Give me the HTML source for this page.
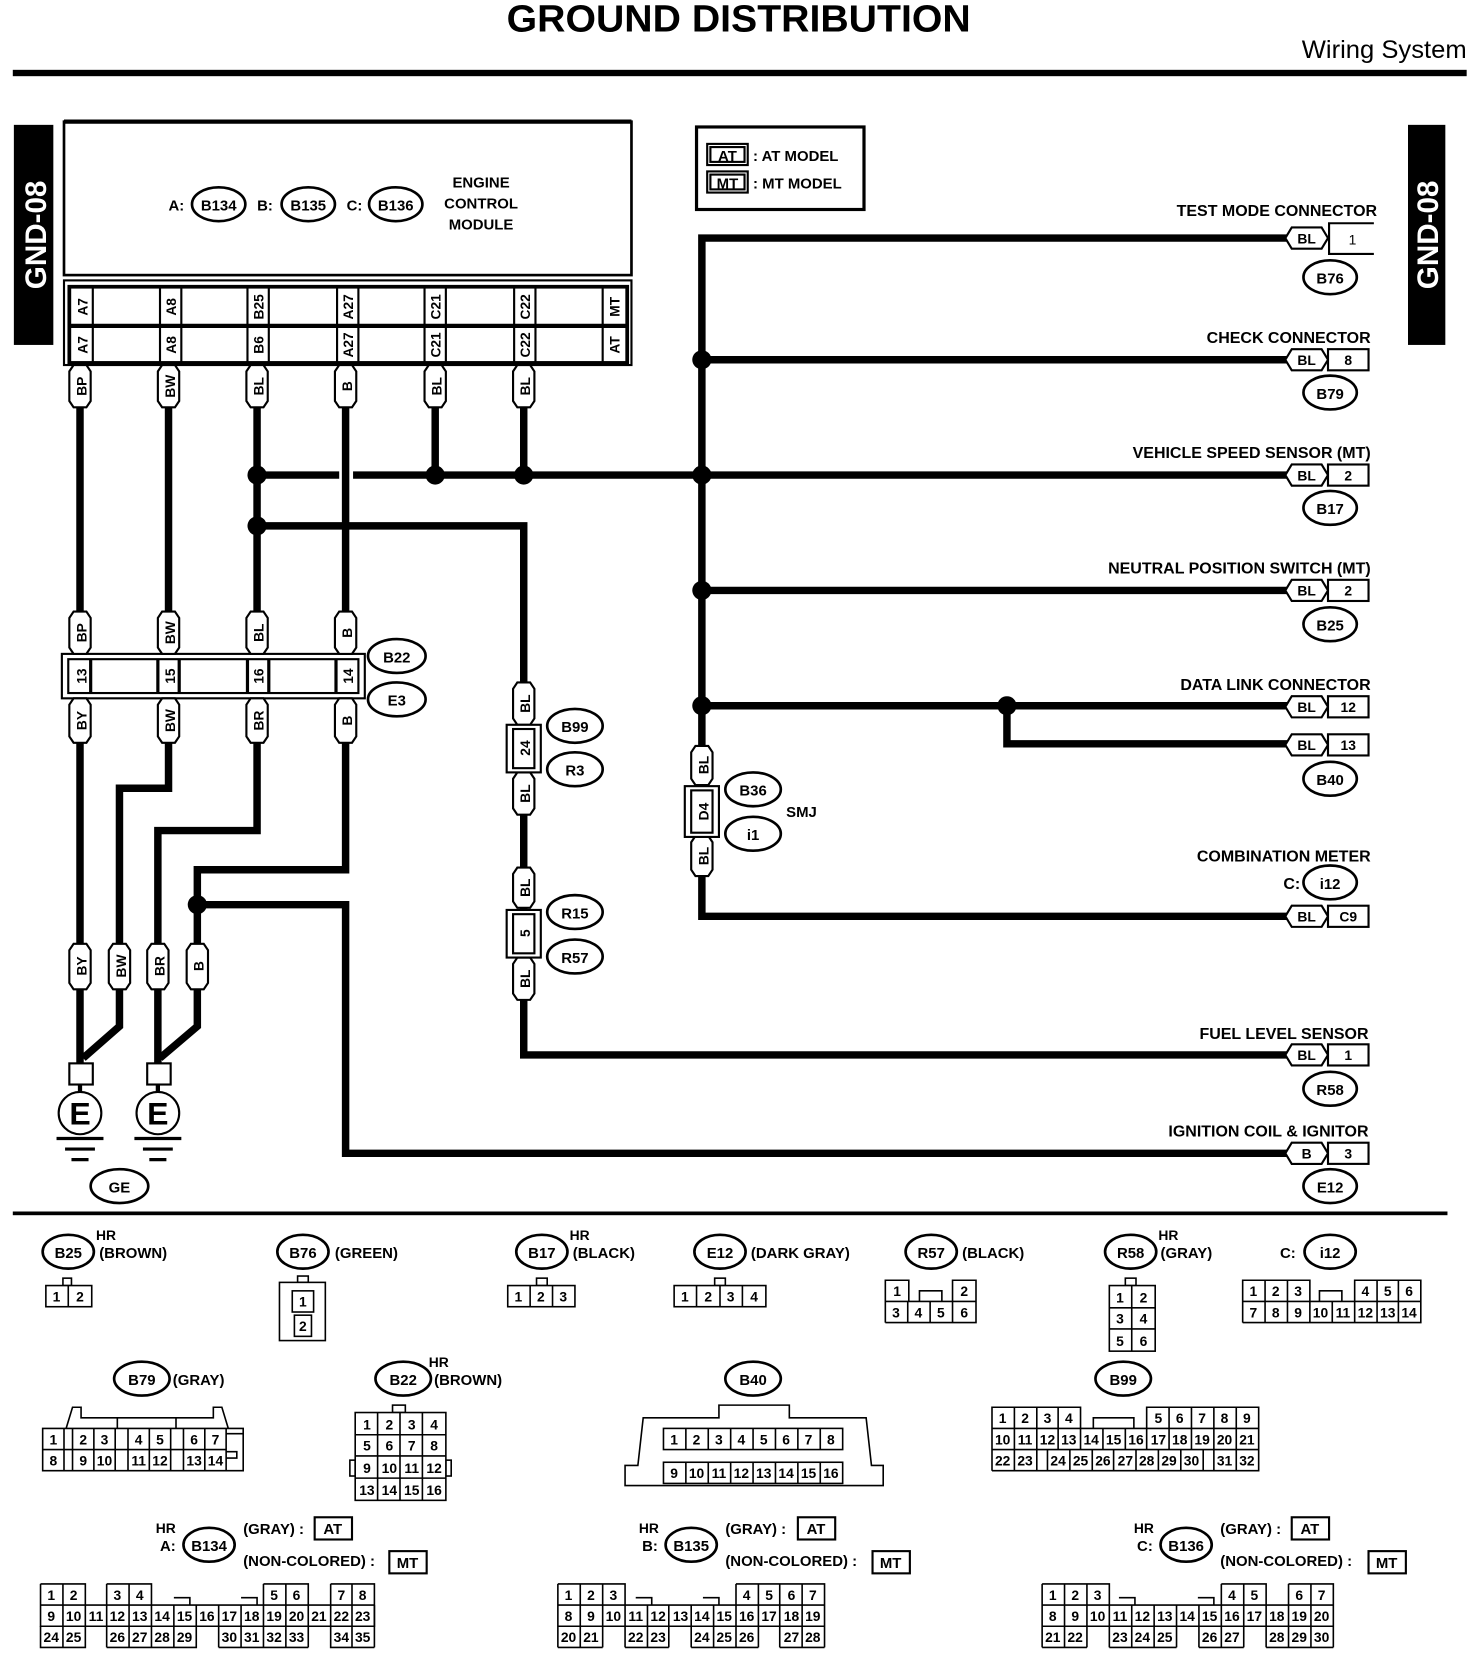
<!DOCTYPE html>
<html><head><meta charset="utf-8"><style>
html,body{margin:0;padding:0;background:#fff}
svg{display:block}
text{font-family:"Liberation Sans",sans-serif;font-weight:bold;fill:#000}
.t{font-size:13px}
.l{font-size:15px}
.o{font-size:14px}
.p{font-size:13px;font-weight:normal}
.w{stroke:#000;stroke-width:7;fill:none}
.tg{fill:#fff;stroke:#000;stroke-width:2}
.ov{fill:#fff;stroke:#000;stroke-width:2.5}
.bx{fill:#fff;stroke:#000;stroke-width:2}
</style></head><body>
<svg width="1472" height="1658" viewBox="0 0 1380 1567" preserveAspectRatio="none" xmlns="http://www.w3.org/2000/svg">
<rect width="1380" height="1567" fill="#fff"/>
<text x="475" y="30" font-size="36" textLength="435" lengthAdjust="spacingAndGlyphs">GROUND DISTRIBUTION</text>
<text x="1375" y="55" font-size="24" text-anchor="end" style="font-weight:normal">Wiring System</text>
<rect x="12" y="66" width="1363" height="6" fill="#000"/>

<rect x="13" y="118" width="37" height="208" fill="#000"/>
<text transform="translate(33,222) rotate(-90)" text-anchor="middle" dy="10" font-size="28" style="fill:#fff">GND-08</text>
<rect x="1320" y="118" width="35" height="208" fill="#000"/>
<text transform="translate(1338,222) rotate(-90)" text-anchor="middle" dy="10" font-size="28" style="fill:#fff">GND-08</text>

<!-- ECM -->
<rect x="60" y="115" width="532" height="145" fill="none" stroke="#000" stroke-width="2.5"/>
<line x1="60" y1="115" x2="592" y2="115" stroke="#000" stroke-width="4"/>
<text x="158" y="199" class="o">A:</text><ellipse cx="205" cy="193" rx="25" ry="16" class="ov"/><text x="205" y="199" class="o" text-anchor="middle">B134</text>
<text x="241" y="199" class="o">B:</text><ellipse cx="289" cy="193" rx="25" ry="16" class="ov"/><text x="289" y="199" class="o" text-anchor="middle">B135</text>
<text x="325" y="199" class="o">C:</text><ellipse cx="371" cy="193" rx="25" ry="16" class="ov"/><text x="371" y="199" class="o" text-anchor="middle">B136</text>
<text x="451" y="177" class="o" text-anchor="middle">ENGINE</text>
<text x="451" y="197" class="o" text-anchor="middle">CONTROL</text>
<text x="451" y="217" class="o" text-anchor="middle">MODULE</text>
<rect x="60" y="265" width="532" height="80" fill="none" stroke="#000" stroke-width="2"/>
<rect x="65" y="271" width="523" height="72" fill="none" stroke="#000" stroke-width="3.5"/>
<line x1="65" y1="308" x2="588" y2="308" stroke="#000" stroke-width="4"/>
<g stroke="#000" stroke-width="2">
<line x1="87" y1="271" x2="87" y2="343"/><line x1="150" y1="271" x2="150" y2="343"/><line x1="170" y1="271" x2="170" y2="343"/>
<line x1="232" y1="271" x2="232" y2="343"/><line x1="252" y1="271" x2="252" y2="343"/><line x1="316" y1="271" x2="316" y2="343"/>
<line x1="336" y1="271" x2="336" y2="343"/><line x1="398" y1="271" x2="398" y2="343"/><line x1="418" y1="271" x2="418" y2="343"/>
<line x1="482" y1="271" x2="482" y2="343"/><line x1="502" y1="271" x2="502" y2="343"/><line x1="565" y1="271" x2="565" y2="343"/>
</g>
<g class="t" text-anchor="middle">
<text transform="translate(77,290) rotate(-90)" dy="5">A7</text><text transform="translate(77,326) rotate(-90)" dy="5">A7</text>
<text transform="translate(160,290) rotate(-90)" dy="5">A8</text><text transform="translate(160,326) rotate(-90)" dy="5">A8</text>
<text transform="translate(242,290) rotate(-90)" dy="5">B25</text><text transform="translate(242,326) rotate(-90)" dy="5">B6</text>
<text transform="translate(326,290) rotate(-90)" dy="5">A27</text><text transform="translate(326,326) rotate(-90)" dy="5">A27</text>
<text transform="translate(408,290) rotate(-90)" dy="5">C21</text><text transform="translate(408,326) rotate(-90)" dy="5">C21</text>
<text transform="translate(492,290) rotate(-90)" dy="5">C22</text><text transform="translate(492,326) rotate(-90)" dy="5">C22</text>
<text transform="translate(576,290) rotate(-90)" dy="5">MT</text><text transform="translate(576,326) rotate(-90)" dy="5">AT</text>
</g>

<!-- wires left -->
<path class="w" d="M75 345V1005 M158 345V745H112V970L78 1000 M241 345V785H148V1005 M324 345V822H185V970L150 1000 M408 345V449 M491 345V449 M185 855H324V1090H1210"/>
<path class="w" d="M241 449H318 M331 449H1210 M241 497H491V645"/>
<path class="w" d="M491 685V997H1210" />
<circle cx="241" cy="449" r="9"/><circle cx="408" cy="449" r="9"/><circle cx="491" cy="449" r="9"/><circle cx="658" cy="449" r="9"/>
<circle cx="241" cy="497" r="9"/><circle cx="185" cy="855" r="9"/>

<!-- right trunk -->
<path class="w" d="M1210 225H658V866H1210 M658 340H1210 M658 558H1210 M658 667H1210 M944 667V703H1210"/>
<circle cx="658" cy="340" r="9"/><circle cx="658" cy="558" r="9"/><circle cx="658" cy="667" r="9"/><circle cx="944" cy="667" r="9"/>

<!-- B22/E3 -->
<rect x="58" y="618" width="284" height="42" class="bx"/>
<rect x="64" y="623" width="272" height="32" class="bx" stroke-width="3"/>
<g stroke="#000" stroke-width="3"><line x1="85" y1="623" x2="85" y2="655"/><line x1="148" y1="623" x2="148" y2="655"/><line x1="168" y1="623" x2="168" y2="655"/><line x1="232" y1="623" x2="232" y2="655"/><line x1="252" y1="623" x2="252" y2="655"/><line x1="315" y1="623" x2="315" y2="655"/></g>
<g class="t" text-anchor="middle">
<text transform="translate(76,639) rotate(-90)" dy="5">13</text><text transform="translate(159,639) rotate(-90)" dy="5">15</text>
<text transform="translate(242,639) rotate(-90)" dy="5">16</text><text transform="translate(326,639) rotate(-90)" dy="5">14</text>
</g>
<ellipse cx="372" cy="620" rx="27" ry="16" class="ov"/><text x="372" y="626" class="o" text-anchor="middle">B22</text>
<ellipse cx="372" cy="661" rx="27" ry="16" class="ov"/><text x="372" y="667" class="o" text-anchor="middle">E3</text>

<!-- tags -->
<g class="tg">
<polygon points="65,351 69,345 81,345 85,351 85,379 81,385 69,385 65,379"/>
<polygon points="148,351 152,345 164,345 168,351 168,379 164,385 152,385 148,379"/>
<polygon points="231,351 235,345 247,345 251,351 251,379 247,385 235,385 231,379"/>
<polygon points="314,351 318,345 330,345 334,351 334,379 330,385 318,385 314,379"/>
<polygon points="398,351 402,345 414,345 418,351 418,379 414,385 402,385 398,379"/>
<polygon points="481,351 485,345 497,345 501,351 501,379 497,385 485,385 481,379"/>
<polygon points="65,584 69,578 81,578 85,584 85,612 81,618 69,618 65,612"/>
<polygon points="148,584 152,578 164,578 168,584 168,612 164,618 152,618 148,612"/>
<polygon points="231,584 235,578 247,578 251,584 251,612 247,618 235,618 231,612"/>
<polygon points="314,584 318,578 330,578 334,584 334,612 330,618 318,618 314,612"/>
<polygon points="65,666 69,660 81,660 85,666 85,696 81,702 69,702 65,696"/>
<polygon points="148,666 152,660 164,660 168,666 168,696 164,702 152,702 148,696"/>
<polygon points="231,666 235,660 247,660 251,666 251,696 247,702 235,702 231,696"/>
<polygon points="314,666 318,660 330,660 334,666 334,696 330,702 318,702 314,696"/>
<polygon points="65,898 69,892 81,892 85,898 85,929 81,935 69,935 65,929"/>
<polygon points="102,898 106,892 118,892 122,898 122,929 118,935 106,935 102,929"/>
<polygon points="138,898 142,892 154,892 158,898 158,929 154,935 142,935 138,929"/>
<polygon points="175,898 179,892 191,892 195,898 195,929 191,935 179,935 175,929"/>
<polygon points="481,651 485,645 497,645 501,651 501,679 497,685 485,685 481,679"/>
<polygon points="481,736 485,730 497,730 501,736 501,764 497,770 485,770 481,764"/>
<polygon points="481,826 485,820 497,820 501,826 501,852 497,858 485,858 481,852"/>
<polygon points="481,911 485,905 497,905 501,911 501,939 497,945 485,945 481,939"/>
<polygon points="648,711 652,705 664,705 668,711 668,736 664,742 652,742 648,736"/>
<polygon points="648,796 652,790 664,790 668,796 668,822 664,828 652,828 648,822"/>
</g>
<g class="t" text-anchor="middle">
<text transform="translate(76,365) rotate(-90)" dy="5">BP</text><text transform="translate(159,365) rotate(-90)" dy="5">BW</text>
<text transform="translate(242,365) rotate(-90)" dy="5">BL</text><text transform="translate(325,365) rotate(-90)" dy="5">B</text>
<text transform="translate(409,365) rotate(-90)" dy="5">BL</text><text transform="translate(492,365) rotate(-90)" dy="5">BL</text>
<text transform="translate(76,598) rotate(-90)" dy="5">BP</text><text transform="translate(159,598) rotate(-90)" dy="5">BW</text>
<text transform="translate(242,598) rotate(-90)" dy="5">BL</text><text transform="translate(325,598) rotate(-90)" dy="5">B</text>
<text transform="translate(76,681) rotate(-90)" dy="5">BY</text><text transform="translate(159,681) rotate(-90)" dy="5">BW</text>
<text transform="translate(242,681) rotate(-90)" dy="5">BR</text><text transform="translate(325,681) rotate(-90)" dy="5">B</text>
<text transform="translate(76,913) rotate(-90)" dy="5">BY</text><text transform="translate(113,913) rotate(-90)" dy="5">BW</text>
<text transform="translate(149,913) rotate(-90)" dy="5">BR</text><text transform="translate(186,913) rotate(-90)" dy="5">B</text>
<text transform="translate(492,665) rotate(-90)" dy="5">BL</text><text transform="translate(492,750) rotate(-90)" dy="5">BL</text>
<text transform="translate(492,839) rotate(-90)" dy="5">BL</text><text transform="translate(492,925) rotate(-90)" dy="5">BL</text>
<text transform="translate(659,723) rotate(-90)" dy="5">BL</text><text transform="translate(659,809) rotate(-90)" dy="5">BL</text>
</g>
<!-- inline connectors -->
<rect x="475" y="685" width="32" height="45" class="bx"/><rect x="481" y="689" width="20" height="37" class="bx"/>
<text transform="translate(492,707) rotate(-90)" dy="5" class="t" text-anchor="middle">24</text>
<rect x="475" y="860" width="32" height="45" class="bx"/><rect x="481" y="864" width="20" height="37" class="bx"/>
<text transform="translate(492,882) rotate(-90)" dy="5" class="t" text-anchor="middle">5</text>
<rect x="642" y="743" width="32" height="48" class="bx"/><rect x="648" y="747" width="20" height="40" class="bx"/>
<text transform="translate(659,767) rotate(-90)" dy="5" class="t" text-anchor="middle">D4</text>
<ellipse cx="539" cy="686" rx="26" ry="16" class="ov"/><text x="539" y="692" class="o" text-anchor="middle">B99</text>
<ellipse cx="539" cy="727" rx="26" ry="16" class="ov"/><text x="539" y="733" class="o" text-anchor="middle">R3</text>
<ellipse cx="539" cy="862" rx="26" ry="16" class="ov"/><text x="539" y="868" class="o" text-anchor="middle">R15</text>
<ellipse cx="539" cy="904" rx="26" ry="16" class="ov"/><text x="539" y="910" class="o" text-anchor="middle">R57</text>
<ellipse cx="706" cy="746" rx="26" ry="16" class="ov"/><text x="706" y="752" class="o" text-anchor="middle">B36</text>
<ellipse cx="706" cy="788" rx="26" ry="16" class="ov"/><text x="706" y="794" class="o" text-anchor="middle">i1</text>
<text x="737" y="772" class="o">SMJ</text>

<!-- grounds -->
<rect x="65" y="1005" width="22" height="20" class="bx"/><rect x="138" y="1005" width="22" height="20" class="bx"/>
<line x1="75" y1="1025" x2="75" y2="1032" stroke="#000" stroke-width="4"/><line x1="148" y1="1025" x2="148" y2="1032" stroke="#000" stroke-width="4"/>
<circle cx="75" cy="1052" r="20" class="bx" stroke-width="2.5"/><circle cx="148" cy="1052" r="20" class="bx" stroke-width="2.5"/>
<text x="75" y="1063" font-size="30" text-anchor="middle">E</text><text x="148" y="1063" font-size="30" text-anchor="middle">E</text>
<g stroke="#000" stroke-width="3"><line x1="53" y1="1076" x2="97" y2="1076"/><line x1="61" y1="1086" x2="89" y2="1086"/><line x1="67" y1="1096" x2="83" y2="1096"/>
<line x1="126" y1="1076" x2="170" y2="1076"/><line x1="134" y1="1086" x2="162" y2="1086"/><line x1="140" y1="1096" x2="156" y2="1096"/></g>
<ellipse cx="112" cy="1121" rx="27" ry="16" class="ov"/><text x="112" y="1127" class="o" text-anchor="middle">GE</text>

<!-- legend -->
<rect x="653" y="120" width="157" height="78" fill="none" stroke="#000" stroke-width="3"/>
<rect x="663" y="136" width="38" height="20" class="bx"/><rect x="666" y="139" width="32" height="14" class="bx" stroke-width="1.5"/>
<text x="682" y="152" class="o" text-anchor="middle">AT</text><text x="706" y="152" class="o">: AT MODEL</text>
<rect x="663" y="162" width="38" height="20" class="bx"/><rect x="666" y="165" width="32" height="14" class="bx" stroke-width="1.5"/>
<text x="682" y="178" class="o" text-anchor="middle">MT</text><text x="706" y="178" class="o">: MT MODEL</text>

<!-- right connectors -->
<g class="tg">
<polygon points="1205,225 1211,215 1239,215 1245,225 1239,235 1211,235"/>
<polygon points="1205,340 1211,330 1239,330 1245,340 1239,350 1211,350"/>
<polygon points="1205,449 1211,439 1239,439 1245,449 1239,459 1211,459"/>
<polygon points="1205,558 1211,548 1239,548 1245,558 1239,568 1211,568"/>
<polygon points="1205,668 1211,658 1239,658 1245,668 1239,678 1211,678"/>
<polygon points="1205,704 1211,694 1239,694 1245,704 1239,714 1211,714"/>
<polygon points="1205,866 1211,856 1239,856 1245,866 1239,876 1211,876"/>
<polygon points="1205,997 1211,987 1239,987 1245,997 1239,1007 1211,1007"/>
<polygon points="1205,1090 1211,1080 1239,1080 1245,1090 1239,1100 1211,1100"/>
</g>
<path d="M1288 211H1246V240H1288" fill="#fff" stroke="#000" stroke-width="2"/>
<g class="bx"><rect x="1245" y="330" width="38" height="20"/><rect x="1245" y="439" width="38" height="20"/><rect x="1245" y="548" width="38" height="20"/>
<rect x="1245" y="658" width="38" height="20"/><rect x="1245" y="694" width="38" height="20"/><rect x="1245" y="856" width="38" height="20"/>
<rect x="1245" y="987" width="38" height="20"/><rect x="1245" y="1080" width="38" height="20"/></g>
<g class="t" text-anchor="middle">
<text x="1225" y="230">BL</text><text x="1268" y="231" class="p" font-size="15">1</text>
<text x="1225" y="345">BL</text><text x="1264" y="345">8</text>
<text x="1225" y="454">BL</text><text x="1264" y="454">2</text>
<text x="1225" y="563">BL</text><text x="1264" y="563">2</text>
<text x="1225" y="673">BL</text><text x="1264" y="673">12</text>
<text x="1225" y="709">BL</text><text x="1264" y="709">13</text>
<text x="1225" y="871">BL</text><text x="1264" y="871">C9</text>
<text x="1225" y="1002">BL</text><text x="1264" y="1002">1</text>
<text x="1225" y="1095">B</text><text x="1264" y="1095">3</text>
</g>
<g class="l" text-anchor="end">
<text x="1291" y="204">TEST MODE CONNECTOR</text>
<text x="1285" y="324">CHECK CONNECTOR</text>
<text x="1285" y="433">VEHICLE SPEED SENSOR (MT)</text>
<text x="1285" y="542">NEUTRAL POSITION SWITCH (MT)</text>
<text x="1285" y="652">DATA LINK CONNECTOR</text>
<text x="1285" y="814">COMBINATION METER</text>
<text x="1283" y="982">FUEL LEVEL SENSOR</text>
<text x="1283" y="1074">IGNITION COIL &amp; IGNITOR</text>
<text x="1219" y="840">C:</text>
</g>
<g>
<ellipse cx="1247" cy="262" rx="25" ry="16" class="ov"/><text x="1247" y="268" class="o" text-anchor="middle">B76</text>
<ellipse cx="1247" cy="371" rx="25" ry="16" class="ov"/><text x="1247" y="377" class="o" text-anchor="middle">B79</text>
<ellipse cx="1247" cy="480" rx="25" ry="16" class="ov"/><text x="1247" y="486" class="o" text-anchor="middle">B17</text>
<ellipse cx="1247" cy="590" rx="25" ry="16" class="ov"/><text x="1247" y="596" class="o" text-anchor="middle">B25</text>
<ellipse cx="1247" cy="736" rx="25" ry="16" class="ov"/><text x="1247" y="742" class="o" text-anchor="middle">B40</text>
<ellipse cx="1247" cy="834" rx="25" ry="16" class="ov"/><text x="1247" y="840" class="o" text-anchor="middle">i12</text>
<ellipse cx="1247" cy="1029" rx="25" ry="16" class="ov"/><text x="1247" y="1035" class="o" text-anchor="middle">R58</text>
<ellipse cx="1247" cy="1121" rx="25" ry="16" class="ov"/><text x="1247" y="1127" class="o" text-anchor="middle">E12</text>
</g>

<rect x="12" y="1145" width="1345" height="3.5" fill="#000"/>

<!-- bottom row 1 labels -->
<g class="o">
<ellipse cx="64" cy="1183" rx="24" ry="16" class="ov"/><text x="64" y="1189" text-anchor="middle">B25</text><text x="90" y="1172" font-size="13">HR</text><text x="93" y="1189">(BROWN)</text>
<ellipse cx="284" cy="1183" rx="24" ry="16" class="ov"/><text x="284" y="1189" text-anchor="middle">B76</text><text x="314" y="1189">(GREEN)</text>
<ellipse cx="508" cy="1183" rx="24" ry="16" class="ov"/><text x="508" y="1189" text-anchor="middle">B17</text><text x="534" y="1172" font-size="13">HR</text><text x="537" y="1189">(BLACK)</text>
<ellipse cx="675" cy="1183" rx="24" ry="16" class="ov"/><text x="675" y="1189" text-anchor="middle">E12</text><text x="704" y="1189">(DARK GRAY)</text>
<ellipse cx="873" cy="1183" rx="24" ry="16" class="ov"/><text x="873" y="1189" text-anchor="middle">R57</text><text x="902" y="1189">(BLACK)</text>
<ellipse cx="1060" cy="1183" rx="24" ry="16" class="ov"/><text x="1060" y="1189" text-anchor="middle">R58</text><text x="1086" y="1172" font-size="13">HR</text><text x="1088" y="1189">(GRAY)</text>
<text x="1200" y="1189">C:</text><ellipse cx="1247" cy="1183" rx="24" ry="16" class="ov"/><text x="1247" y="1189" text-anchor="middle">i12</text>
<ellipse cx="133" cy="1303" rx="26" ry="16" class="ov"/><text x="133" y="1309" text-anchor="middle">B79</text><text x="162" y="1309">(GRAY)</text>
<ellipse cx="378" cy="1303" rx="26" ry="16" class="ov"/><text x="378" y="1309" text-anchor="middle">B22</text><text x="402" y="1292" font-size="13">HR</text><text x="407" y="1309">(BROWN)</text>
<ellipse cx="706" cy="1303" rx="26" ry="16" class="ov"/><text x="706" y="1309" text-anchor="middle">B40</text>
<ellipse cx="1053" cy="1303" rx="26" ry="16" class="ov"/><text x="1053" y="1309" text-anchor="middle">B99</text>
</g>

<g stroke="#000" stroke-width="1.5" fill="#fff">
<!-- B25 -->
<rect x="59" y="1208" width="8" height="7"/><rect x="43" y="1215" width="43" height="20"/><line x1="64" y1="1215" x2="64" y2="1235"/>
<!-- B76 -->
<rect x="279" y="1206" width="10" height="6"/><rect x="262" y="1212" width="43" height="55"/><rect x="274" y="1220" width="20" height="20"/><rect x="276" y="1243" width="16" height="20"/>
<!-- B17 -->
<rect x="503" y="1208" width="10" height="7"/><rect x="476" y="1215" width="63" height="20"/><line x1="497" y1="1215" x2="497" y2="1235"/><line x1="518" y1="1215" x2="518" y2="1235"/>
<!-- E12 -->
<rect x="670" y="1208" width="10" height="7"/><rect x="632" y="1215" width="86" height="20"/><line x1="653" y1="1215" x2="653" y2="1235"/><line x1="675" y1="1215" x2="675" y2="1235"/><line x1="696" y1="1215" x2="696" y2="1235"/>
<!-- R57 -->
<path fill="none" d="M830 1250V1210H852V1230M893 1230V1210H915V1250H830M830 1230H915M851 1230V1250M872 1230V1250M893 1230V1250M862 1230V1220H883V1230"/>
<!-- R58 -->
<rect x="1055" y="1208" width="10" height="7"/><rect x="1040" y="1215" width="43" height="62"/><line x1="1061" y1="1215" x2="1061" y2="1277"/><line x1="1040" y1="1236" x2="1083" y2="1236"/><line x1="1040" y1="1256" x2="1083" y2="1256"/>
<!-- i12 -->
<path fill="none" d="M1165 1250V1210H1228V1230M1270 1230V1210H1332V1250H1165M1165 1230H1332M1186 1210V1250M1207 1210V1250M1228 1230V1250M1249 1230V1250M1270 1230V1250M1291 1210V1250M1311 1210V1250M1237 1230V1220H1258V1230"/>
<!-- B79 -->
<path fill="none" d="M40 1350H228V1390H40Z M40 1370H212 M60 1350V1390 M68 1350V1390 M88 1350V1390 M108 1350V1390 M120 1350V1390 M140 1350V1390 M160 1350V1390 M172 1350V1390 M192 1350V1390 M212 1350V1390 M62 1350L68 1330H76V1340H200V1330H208L214 1350 M110 1340V1350 M165 1340V1350 M212 1355H228M212 1372H222V1378H212"/>
<!-- B22 -->
<rect x="368" y="1328" width="12" height="7"/><rect x="328" y="1380" width="5" height="15"/><rect x="418" y="1380" width="5" height="15"/><rect x="333" y="1335" width="85" height="83"/>
<path d="M354 1335V1418M375 1335V1418M396 1335V1418M333 1356H418M333 1376H418M333 1397H418"/>
<!-- B40 -->
<path d="M586 1404V1385H598L603 1340H674V1328H740V1340H812L817 1385H828V1404Z"/>
<rect x="622" y="1350" width="168" height="20"/><rect x="622" y="1382" width="168" height="20"/>
<path d="M643 1350V1370M664 1350V1370M685 1350V1370M706 1350V1370M727 1350V1370M748 1350V1370M769 1350V1370M643 1382V1402M664 1382V1402M685 1382V1402M706 1382V1402M727 1382V1402M748 1382V1402M769 1382V1402"/>
<!-- B99 -->
<path fill="none" d="M930 1390V1330H1013V1350 M1075 1350V1330H1180V1390H930 M930 1350H1180 M930 1370H1180 M1025 1350V1340H1063V1350"/>
<path fill="none" d="M951 1330V1390M972 1330V1390M992 1330V1350M1013 1350V1370M1034 1350V1370M1055 1350V1370M1075 1350V1370M1096 1330V1370M1117 1330V1370M1138 1330V1390M1159 1330V1390 M992 1350V1370 M982 1370V1390M1003 1370V1390M1024 1370V1390M1044 1370V1390M1065 1370V1390M1086 1370V1390M1107 1370V1390M1128 1370V1390"/>
</g>
<g class="p" text-anchor="middle">
<text x="53" y="1230">1</text><text x="75" y="1230">2</text>
<text x="284" y="1235">1</text><text x="284" y="1258">2</text>
<text x="486" y="1230">1</text><text x="507" y="1230">2</text><text x="528" y="1230">3</text>
<text x="642" y="1230">1</text><text x="664" y="1230">2</text><text x="685" y="1230">3</text><text x="707" y="1230">4</text>
<text x="841" y="1225">1</text><text x="904" y="1225">2</text><text x="840" y="1245">3</text><text x="861" y="1245">4</text><text x="882" y="1245">5</text><text x="904" y="1245">6</text>
<text x="1050" y="1231">1</text><text x="1072" y="1231">2</text><text x="1050" y="1251">3</text><text x="1072" y="1251">4</text><text x="1050" y="1272">5</text><text x="1072" y="1272">6</text>
<text x="1175" y="1225">1</text><text x="1196" y="1225">2</text><text x="1217" y="1225">3</text><text x="1280" y="1225">4</text><text x="1301" y="1225">5</text><text x="1321" y="1225">6</text>
<text x="1175" y="1245">7</text><text x="1196" y="1245">8</text><text x="1217" y="1245">9</text><text x="1238" y="1245">10</text><text x="1259" y="1245">11</text><text x="1280" y="1245">12</text><text x="1301" y="1245">13</text><text x="1321" y="1245">14</text>
<text x="50" y="1365">1</text><text x="78" y="1365">2</text><text x="98" y="1365">3</text><text x="130" y="1365">4</text><text x="150" y="1365">5</text><text x="182" y="1365">6</text><text x="202" y="1365">7</text>
<text x="50" y="1385">8</text><text x="78" y="1385">9</text><text x="98" y="1385">10</text><text x="130" y="1385">11</text><text x="150" y="1385">12</text><text x="182" y="1385">13</text><text x="202" y="1385">14</text>
<text x="344" y="1351">1</text><text x="365" y="1351">2</text><text x="386" y="1351">3</text><text x="407" y="1351">4</text>
<text x="344" y="1371">5</text><text x="365" y="1371">6</text><text x="386" y="1371">7</text><text x="407" y="1371">8</text>
<text x="344" y="1392">9</text><text x="365" y="1392">10</text><text x="386" y="1392">11</text><text x="407" y="1392">12</text>
<text x="344" y="1413">13</text><text x="365" y="1413">14</text><text x="386" y="1413">15</text><text x="407" y="1413">16</text>
<text x="632" y="1365">1</text><text x="653" y="1365">2</text><text x="674" y="1365">3</text><text x="695" y="1365">4</text><text x="716" y="1365">5</text><text x="737" y="1365">6</text><text x="758" y="1365">7</text><text x="779" y="1365">8</text>
<text x="632" y="1397">9</text><text x="653" y="1397">10</text><text x="674" y="1397">11</text><text x="695" y="1397">12</text><text x="716" y="1397">13</text><text x="737" y="1397">14</text><text x="758" y="1397">15</text><text x="779" y="1397">16</text>
<text x="940" y="1345">1</text><text x="961" y="1345">2</text><text x="982" y="1345">3</text><text x="1002" y="1345">4</text><text x="1086" y="1345">5</text><text x="1106" y="1345">6</text><text x="1127" y="1345">7</text><text x="1148" y="1345">8</text><text x="1169" y="1345">9</text>
<text x="940" y="1365">10</text><text x="961" y="1365">11</text><text x="982" y="1365">12</text><text x="1002" y="1365">13</text><text x="1023" y="1365">14</text><text x="1044" y="1365">15</text><text x="1065" y="1365">16</text><text x="1086" y="1365">17</text><text x="1106" y="1365">18</text><text x="1127" y="1365">19</text><text x="1148" y="1365">20</text><text x="1169" y="1365">21</text>
<text x="940" y="1385">22</text><text x="961" y="1385">23</text><text x="992" y="1385">24</text><text x="1013" y="1385">25</text><text x="1034" y="1385">26</text><text x="1055" y="1385">27</text><text x="1075" y="1385">28</text><text x="1096" y="1385">29</text><text x="1117" y="1385">30</text><text x="1148" y="1385">31</text><text x="1169" y="1385">32</text>
</g>

<!-- ECM connector headers -->
<g class="o">
<text x="146" y="1449" font-size="13">HR</text><text x="150" y="1466">A:</text><ellipse cx="196" cy="1460" rx="24" ry="16" class="ov"/><text x="196" y="1466" text-anchor="middle">B134</text>
<text x="228" y="1450">(GRAY) :</text><rect x="295" y="1434" width="35" height="21" class="bx" stroke-width="3"/><text x="312" y="1450" text-anchor="middle">AT</text>
<text x="228" y="1480">(NON-COLORED) :</text><rect x="365" y="1466" width="35" height="21" class="bx" stroke-width="3"/><text x="382" y="1482" text-anchor="middle">MT</text>
<text x="599" y="1449" font-size="13">HR</text><text x="602" y="1466">B:</text><ellipse cx="648" cy="1460" rx="24" ry="16" class="ov"/><text x="648" y="1466" text-anchor="middle">B135</text>
<text x="680" y="1450">(GRAY) :</text><rect x="748" y="1434" width="35" height="21" class="bx" stroke-width="3"/><text x="765" y="1450" text-anchor="middle">AT</text>
<text x="680" y="1480">(NON-COLORED) :</text><rect x="818" y="1466" width="35" height="21" class="bx" stroke-width="3"/><text x="835" y="1482" text-anchor="middle">MT</text>
<text x="1063" y="1449" font-size="13">HR</text><text x="1066" y="1466">C:</text><ellipse cx="1112" cy="1460" rx="24" ry="16" class="ov"/><text x="1112" y="1466" text-anchor="middle">B136</text>
<text x="1144" y="1450">(GRAY) :</text><rect x="1211" y="1434" width="35" height="21" class="bx" stroke-width="3"/><text x="1228" y="1450" text-anchor="middle">AT</text>
<text x="1144" y="1480">(NON-COLORED) :</text><rect x="1283" y="1466" width="35" height="21" class="bx" stroke-width="3"/><text x="1300" y="1482" text-anchor="middle">MT</text>
</g>
<g stroke="#000" stroke-width="1.5" fill="none">
<path d="M38 1517H351V1537H38Z M38 1497H80V1517 M38 1497V1517 M59 1497V1557 M100 1497H142V1517 M100 1497V1517 M121 1497V1517 M142 1497V1517 M163 1510H178V1517 M226 1510H241V1517 M247 1497H289V1517 M247 1497V1517 M268 1497V1517 M289 1497V1517 M310 1497H351V1517 M310 1497V1517 M330 1497V1517 M351 1497V1517"/>
<path d="M80 1517V1537 M100 1517V1557 M121 1517V1557 M142 1517V1557 M163 1517V1557 M184 1517V1537 M205 1517V1557 M226 1517V1557 M247 1517V1557 M268 1517V1557 M289 1517V1557 M310 1517V1537 M330 1517V1557 M351 1517V1557 M38 1537V1557H80V1537 M100 1557H184V1537 M205 1557H289 M310 1537V1557H351"/>
<path d="M523 1497H586V1517 M523 1497V1557 M544 1497V1557 M565 1497V1557 M586 1517V1557 M523 1517H773 M523 1537H773 M596 1510H611V1517 M659 1510H674V1517 M690 1497H773V1557 M690 1497V1557 M711 1497V1557 M731 1497V1557 M752 1497V1557 M607 1517V1557 M627 1517V1557 M648 1517V1557 M669 1517V1537 M523 1557H565 M586 1557H627 M648 1557H711 M731 1557H773 M669 1537V1557"/>
<path d="M977 1497H1040V1517 M977 1497V1557 M998 1497V1557 M1019 1497V1557 M1040 1517V1537 M977 1517H1250 M977 1537H1250 M1049 1510H1064V1517 M1123 1510H1138V1517 M1145 1497H1187V1517 M1145 1497V1557 M1166 1497V1557 M1187 1517V1557 M1208 1497H1250V1557 M1208 1497V1557 M1229 1497V1557 M1061 1517V1557 M1082 1517V1557 M1103 1517V1557 M1124 1517V1537 M977 1557H1019 M1040 1557H1103 M1124 1557H1166 M1187 1557H1250 M1124 1537V1557 M1040 1537V1557"/>
</g>
<g class="p" text-anchor="middle" font-size="12">
<text x="48" y="1512">1</text><text x="69" y="1512">2</text><text x="110" y="1512">3</text><text x="131" y="1512">4</text><text x="257" y="1512">5</text><text x="278" y="1512">6</text><text x="320" y="1512">7</text><text x="340" y="1512">8</text>
<text x="48" y="1532">9</text><text x="69" y="1532">10</text><text x="90" y="1532">11</text><text x="110" y="1532">12</text><text x="131" y="1532">13</text><text x="152" y="1532">14</text><text x="173" y="1532">15</text><text x="194" y="1532">16</text><text x="215" y="1532">17</text><text x="236" y="1532">18</text><text x="257" y="1532">19</text><text x="278" y="1532">20</text><text x="299" y="1532">21</text><text x="320" y="1532">22</text><text x="340" y="1532">23</text>
<text x="48" y="1552">24</text><text x="69" y="1552">25</text><text x="110" y="1552">26</text><text x="131" y="1552">27</text><text x="152" y="1552">28</text><text x="173" y="1552">29</text><text x="215" y="1552">30</text><text x="236" y="1552">31</text><text x="257" y="1552">32</text><text x="278" y="1552">33</text><text x="320" y="1552">34</text><text x="340" y="1552">35</text>
<text x="533" y="1512">1</text><text x="554" y="1512">2</text><text x="575" y="1512">3</text><text x="700" y="1512">4</text><text x="721" y="1512">5</text><text x="742" y="1512">6</text><text x="762" y="1512">7</text>
<text x="533" y="1532">8</text><text x="554" y="1532">9</text><text x="575" y="1532">10</text><text x="596" y="1532">11</text><text x="617" y="1532">12</text><text x="638" y="1532">13</text><text x="658" y="1532">14</text><text x="679" y="1532">15</text><text x="700" y="1532">16</text><text x="721" y="1532">17</text><text x="742" y="1532">18</text><text x="762" y="1532">19</text>
<text x="533" y="1552">20</text><text x="554" y="1552">21</text><text x="596" y="1552">22</text><text x="617" y="1552">23</text><text x="658" y="1552">24</text><text x="679" y="1552">25</text><text x="700" y="1552">26</text><text x="742" y="1552">27</text><text x="762" y="1552">28</text>
<text x="987" y="1512">1</text><text x="1008" y="1512">2</text><text x="1029" y="1512">3</text><text x="1155" y="1512">4</text><text x="1176" y="1512">5</text><text x="1218" y="1512">6</text><text x="1239" y="1512">7</text>
<text x="987" y="1532">8</text><text x="1008" y="1532">9</text><text x="1029" y="1532">10</text><text x="1050" y="1532">11</text><text x="1071" y="1532">12</text><text x="1092" y="1532">13</text><text x="1113" y="1532">14</text><text x="1134" y="1532">15</text><text x="1155" y="1532">16</text><text x="1176" y="1532">17</text><text x="1197" y="1532">18</text><text x="1218" y="1532">19</text><text x="1239" y="1532">20</text>
<text x="987" y="1552">21</text><text x="1008" y="1552">22</text><text x="1050" y="1552">23</text><text x="1071" y="1552">24</text><text x="1092" y="1552">25</text><text x="1134" y="1552">26</text><text x="1155" y="1552">27</text><text x="1197" y="1552">28</text><text x="1218" y="1552">29</text><text x="1239" y="1552">30</text>
</g>
</svg>
</body></html>
